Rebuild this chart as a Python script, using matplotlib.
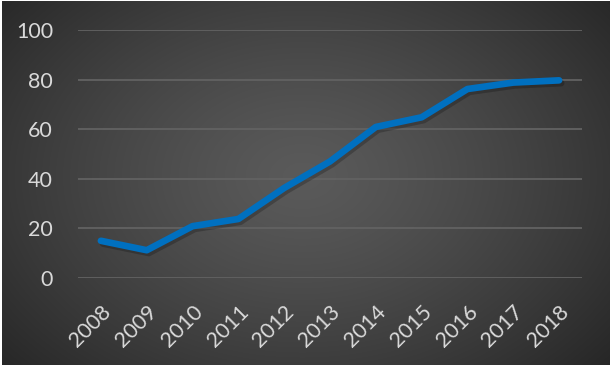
import matplotlib
matplotlib.use("Agg")
import matplotlib.pyplot as plt
import matplotlib.patheffects as pe
import numpy as np

years = ["2008", "2009", "2010", "2011", "2012", "2013",
         "2014", "2015", "2016", "2017", "2018"]
values = [15.0, 11.2, 20.9, 23.8, 36.3, 47.0, 60.9, 64.8, 76.2, 78.8, 79.7]
yticks = [0, 20, 40, 60, 80, 100]

plt.rcParams["font.family"] = ["Lato", "DejaVu Sans"]

W, H = 612, 367
fig = plt.figure(figsize=(W / 100, H / 100), dpi=100, facecolor="white")

# radial gradient background of the chart area
bg = fig.add_axes([2 / W, 2 / H, 608 / W, 364 / H])
bg.set_axis_off()
yy, xx = np.mgrid[0:364, 0:608]
d = np.sqrt(((xx - 300) / 420.0) ** 2 + ((yy - 175) / 300.0) ** 2)
d = np.clip(d, 0, 1)
light, dark = 0x5a / 255, 0x24 / 255
img = light + (dark - light) * d ** 1.3
bg.imshow(np.dstack([img, img, img]), aspect="auto", interpolation="bilinear")

ax = fig.add_axes([78 / W, (H - 278) / H, 504 / W, 248 / H])
ax.patch.set_alpha(0)
x = np.arange(len(years))
ax.plot(x, values, color="#0070C0", lw=4.8, solid_capstyle="round",
        solid_joinstyle="round", zorder=3,
        path_effects=[pe.SimpleLineShadow(offset=(1.5, -2), shadow_color="black", alpha=0.22),
                      pe.Normal()])

ax.set_xlim(-0.5, len(years) - 0.5)
ax.set_ylim(0, 100)
ax.set_yticks(yticks)
ax.set_xticks(x)
ax.set_xticklabels(years, rotation=45, ha="right", rotation_mode="anchor")
ax.grid(axis="y", color="#626262", lw=1.3)
ax.set_axisbelow(True)
for s in ax.spines.values():
    s.set_visible(False)
ax.tick_params(axis="both", length=0, colors="#d9d9d9", labelsize=15.5)
ax.tick_params(axis="y", pad=18)
ax.tick_params(axis="x", pad=17)
for lbl in ax.get_xticklabels() + ax.get_yticklabels():
    lbl.set_color("#d9d9d9")

fig.savefig("out.png", dpi=100, facecolor="white")
